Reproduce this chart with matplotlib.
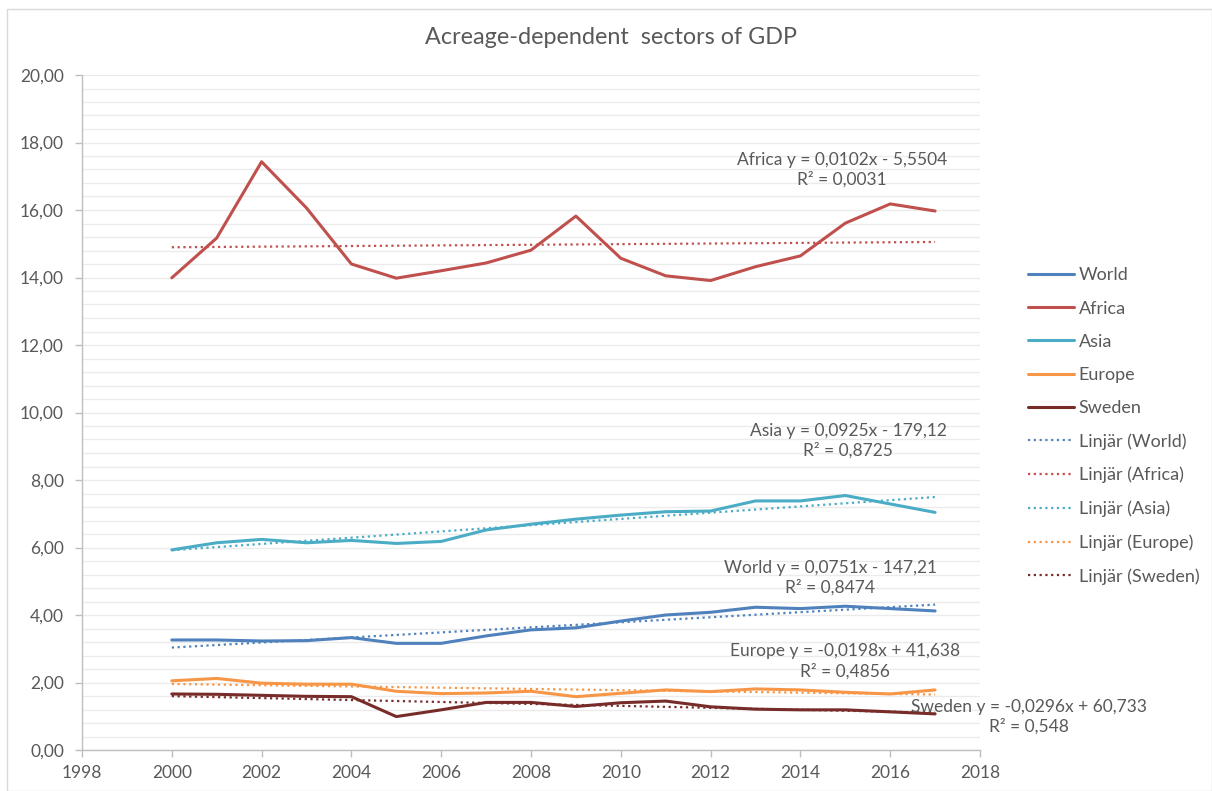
import numpy as np
import matplotlib.pyplot as plt
from matplotlib.patches import Rectangle
from matplotlib.ticker import MultipleLocator, FuncFormatter

plt.rcParams['font.family'] = ['Lato', 'DejaVu Sans']

years = np.arange(2000, 2018)
world = [3.26, 3.26, 3.23, 3.24, 3.33, 3.16, 3.16, 3.38, 3.56, 3.62,
         3.82, 4.00, 4.08, 4.23, 4.19, 4.26, 4.19, 4.12]
africa = [13.99, 15.17, 17.43, 16.06, 14.40, 13.98, 14.20, 14.43, 14.81, 15.82,
          14.57, 14.05, 13.91, 14.32, 14.64, 15.61, 16.18, 15.97]
asia = [5.93, 6.14, 6.24, 6.14, 6.21, 6.12, 6.18, 6.52, 6.69, 6.84,
        6.96, 7.06, 7.08, 7.38, 7.38, 7.54, 7.29, 7.04]
europe = [2.05, 2.12, 1.98, 1.95, 1.95, 1.74, 1.67, 1.69, 1.74, 1.58,
          1.68, 1.78, 1.73, 1.81, 1.78, 1.71, 1.66, 1.78]
sweden = [1.66, 1.65, 1.62, 1.59, 1.58, 0.99, 1.19, 1.41, 1.41, 1.29,
          1.40, 1.45, 1.28, 1.21, 1.19, 1.19, 1.13, 1.07]

names = ["World", "Africa", "Asia", "Europe", "Sweden"]
series = [world, africa, asia, europe, sweden]
colors = ["#4F81BD", "#C0504D", "#4BACC6", "#F79646", "#772C2A"]

eq_labels = {
    "Africa": "Africa y = 0,0102x - 5,5504\nR² = 0,0031",
    "Asia": "Asia y = 0,0925x - 179,12\nR² = 0,8725",
    "World": "World y = 0,0751x - 147,21\nR² = 0,8474",
    "Europe": "Europe y = -0,0198x + 41,638\nR² = 0,4856",
    "Sweden": "Sweden y = -0,0296x + 60,733\nR² = 0,548",
}
eq_pos = {
    "Africa": (2014.93, 17.19),
    "Asia": (2015.06, 9.16),
    "World": (2014.66, 5.10),
    "Europe": (2015.0, 2.62),
    "Sweden": (2019.1, 0.98),
}

txt = "#595959"
fig = plt.figure(figsize=(12.12, 7.91), dpi=100)
fig.patches.append(Rectangle((7 / 1212, 0), 1 - 7 / 1212, 1 - 9 / 791,
                             transform=fig.transFigure, fill=False,
                             edgecolor="#D9D9D9", linewidth=1.0))
ax = fig.add_axes([82 / 1212, 1 - 750 / 791, (980 - 82) / 1212, (750 - 75) / 791])

for name, vals, c in zip(names, series, colors):
    ax.plot(years, vals, color=c, lw=2.2, label=name, solid_capstyle="round", zorder=3)
for name, vals, c in zip(names, series, colors):
    k, m = np.polyfit(years, vals, 1)
    ax.plot(years, k * years + m, color=c, lw=1.6, ls=(0, (1, 1.6)),
            label=f"Linjär ({name})", zorder=2)

for name in names:
    x, y = eq_pos[name]
    ax.text(x, y, eq_labels[name], ha="center", va="center", fontsize=12.5,
            color=txt, linespacing=1.3, multialignment="center", zorder=4)

ax.set_xlim(1998, 2018)
ax.set_ylim(0, 20)
ax.xaxis.set_major_locator(MultipleLocator(2))
ax.yaxis.set_major_locator(MultipleLocator(2))
ax.yaxis.set_minor_locator(MultipleLocator(0.4))
ax.yaxis.set_major_formatter(FuncFormatter(lambda v, p: f"{v:.2f}".replace(".", ",")))
ax.grid(axis="y", which="both", color="#EBEBEB", lw=1.0, zorder=0)
ax.tick_params(axis="y", which="minor", length=0)
ax.tick_params(axis="both", which="major", colors="#BFBFBF", labelcolor=txt,
               labelsize=12.5, length=5, width=1)
ax.tick_params(axis="y", pad=8)
ax.tick_params(axis="x", pad=6)
for s in ["top", "right"]:
    ax.spines[s].set_visible(False)
for s in ["left", "bottom"]:
    ax.spines[s].set_color("#BFBFBF")
    ax.spines[s].set_linewidth(1.0)

fig.text(611 / 1212, 1 - 38 / 791, "Acreage-dependent  sectors of GDP",
         ha="center", va="center", fontsize=16.8, color=txt)

ax.legend(loc="center left", bbox_to_anchor=(1012 / 1212, 1 - 426 / 791),
          bbox_transform=fig.transFigure, frameon=False, fontsize=13,
          handlelength=2.55, handletextpad=0.25, labelspacing=0.95, labelcolor=txt)

fig.savefig("out.png", dpi=100)
